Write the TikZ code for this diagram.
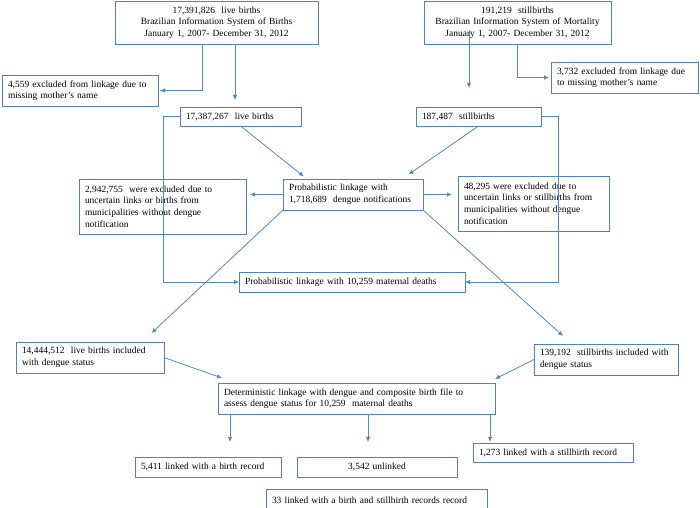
\documentclass[tikz,border=0pt]{standalone}
\usepackage{fontspec}
\setmainfont{Liberation Serif}
\usetikzlibrary{arrows.meta,calc}
\definecolor{boxblue}{RGB}{79,129,189}
\definecolor{lineblue}{RGB}{84,135,200}
\begin{document}
\begin{tikzpicture}[x=1bp,y=-1bp,
  box/.style={draw=boxblue, line width=0.9bp, anchor=north west, inner xsep=6bp, inner ysep=0bp, align=left, font=\fontsize{9.5}{11.6}\selectfont, outer sep=0pt},
  cbox/.style={box, align=center},
  arr/.style={draw=lineblue, line width=0.8bp, -{Latex[length=5bp,width=4.5bp]}},
]
\fill[white] (0,0) rectangle (700,508);
\useasboundingbox (0,0) rectangle (700,508);

\node[cbox, text width=191bp, minimum height=43bp] (b1) at (115,1) {17,391,826 \ live births\\Brazilian Information System of Births\\January 1, 2007- December 31, 2012};
\node[cbox, text width=175bp, minimum height=43bp] (b2) at (424,1) {191,219 \ stillbirths\\Brazilian Information System of Mortality\\January 1, 2007- December 31, 2012};
\node[box, text width=144bp, minimum height=31bp] (ex1) at (2,75) {4,559 excluded from linkage due to\\missing mother’s name};
\node[box, text width=109bp, minimum height=19bp] (live) at (180,107) {17,387,267 \ live births};
\node[box, text width=135bp, minimum height=31bp] (ex2) at (551,62) {3,732 excluded from linkage due\\to missing mother’s name};
\node[box, text width=113bp, minimum height=19bp] (still) at (416,107) {187,487 \ stillbirths};
\node[box, text width=128bp, minimum height=31bp] (prob) at (283,179) {Probabilistic linkage with\\1,718,689 \ dengue notifications};
\node[box, text width=155bp, minimum height=55bp] (ex3) at (79,179) {2,942,755 \ were excluded due to\\uncertain links or births from\\municipalities without dengue\\notification};
\node[box, text width=139bp, minimum height=55bp] (ex4) at (458,176) {48,295 were excluded due to\\uncertain links or stillbirths from\\municipalities without dengue\\notification};
\node[box, text width=214bp, minimum height=20bp] (mat) at (239,272) {Probabilistic linkage with 10,259 maternal deaths};
\node[box, text width=136bp, minimum height=31bp] (lb2) at (16,342) {14,444,512 \ live births included\\with dengue status};
\node[box, text width=132bp, minimum height=31bp] (sb2) at (534,344) {139,192 \ stillbirths included with\\dengue status};
\node[box, text width=265bp, minimum height=31bp] (det) at (218,383) {Deterministic linkage with dengue and composite birth file to\\assess dengue status for 10,259 \ maternal deaths};
\node[box, text width=134bp, minimum height=20bp] (lk) at (135,457) {5,411 linked with a birth record};
\node[cbox, text width=148bp, minimum height=20bp] (un) at (297,457) {3,542 unlinked};
\node[box, text width=148bp, minimum height=19bp] (sl) at (473,443) {1,273 linked with a stillbirth record};
\node[box, text width=209bp, minimum height=22bp] (bs) at (266,489) {33 linked with a birth and stillbirth records record};

\draw[arr, shorten >=2bp] ($(b1.south west)+(87,0)$) |- (ex1.east);
\draw[arr, shorten >=7bp] ($(b1.south west)+(120,0)$) coordinate (p1) -- (p1 |- live.north);
\draw[arr, shorten >=19bp] ($(b2.south west)+(45,-14)$) coordinate (p2) -- (p2 |- still.north);
\draw[arr, shorten >=2bp] ($(b2.south west)+(93,0)$) |- (ex2.west);
\draw[arr] (live.west) -- ++(-17,0) |- (mat.west);
\draw[arr] (still.east) -- ++(17,0) |- (mat.east);
\draw[arr, shorten >=4bp] (live.south) -- ($(prob.north west)+(24,0)$);
\draw[arr, shorten >=8bp] (still.south) -- ($(prob.north east)+(-21,0)$);
\draw[arr, shorten >=4bp] (prob.west) -- (prob.west -| ex3.east);
\draw[arr, shorten >=6bp] (prob.east) -- (prob.east -| ex4.west);
\draw[arr, shorten >=13bp] (prob.south west) -- ($(lb2.north west)+(126,0)$);
\draw[arr, shorten >=12bp] (prob.south east) -- ($(sb2.north west)+(38,0)$);
\draw[arr] (lb2.east) -- ($(det.north west)+(4,-5)$);
\draw[arr] (sb2.west) -- ($(det.north east)+(0,-4)$);
\draw[arr, shorten >=15bp] ($(det.south west)+(12,0)$) -- ($(lk.north west)+(95,0)$);
\draw[arr, shorten >=15bp] ($(det.south west)+(150,0)$) -- ($(un.north west)+(71,0)$);
\draw[arr, shorten >=1bp] ($(det.south west)+(272,0)$) -- ($(sl.north west)+(17,0)$);
\end{tikzpicture}
\end{document}
